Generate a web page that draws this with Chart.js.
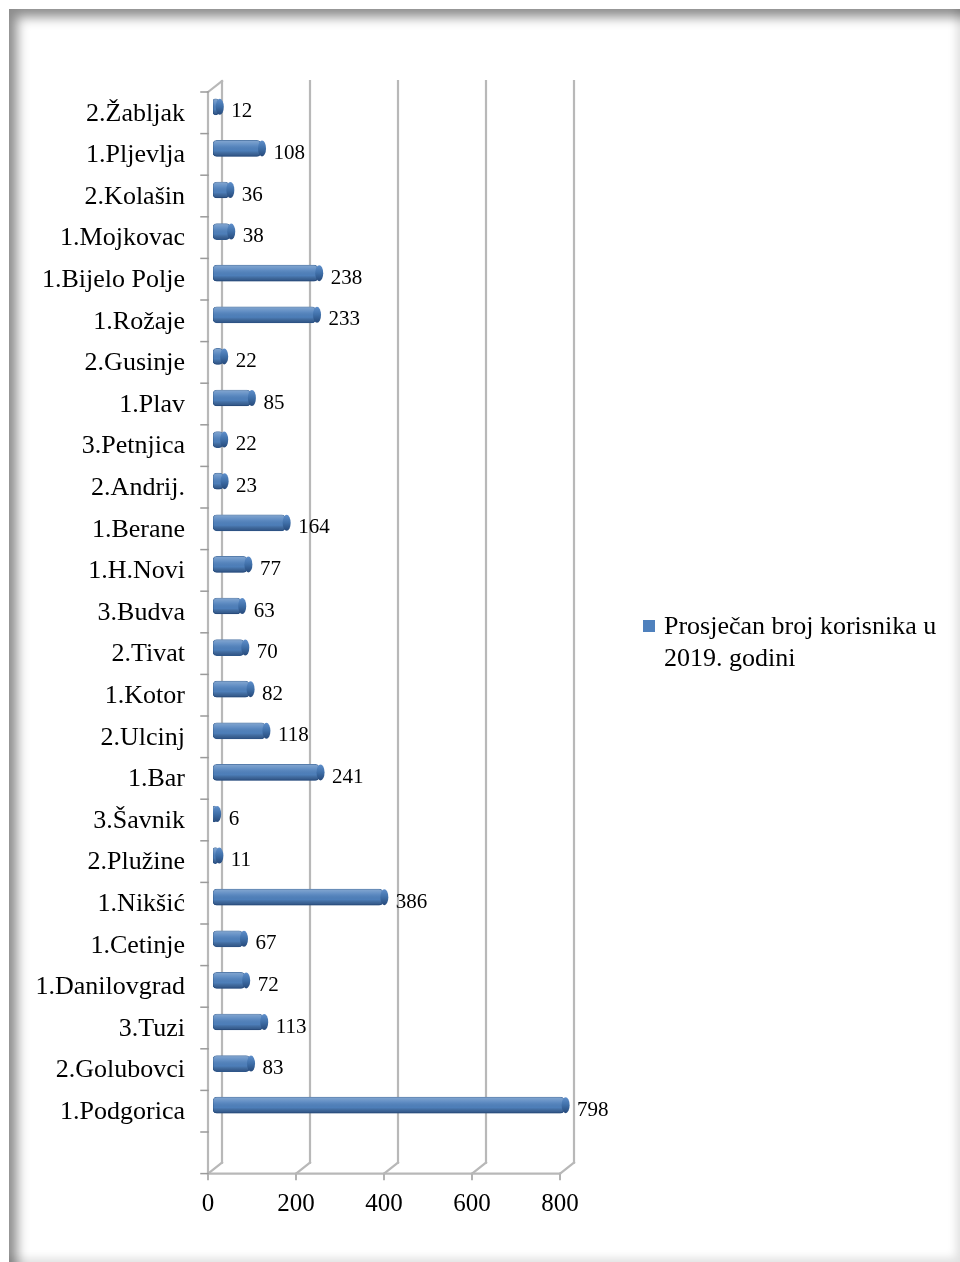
<!DOCTYPE html>
<html>
<head>
<meta charset="utf-8">
<script src="https://cdn.jsdelivr.net/npm/chart.js@4.4.0/dist/chart.umd.min.js"></script>
<style>
  html, body { margin: 0; padding: 0; background: #fff; }
  #wrap { position: relative; width: 960px; height: 1262px; overflow: hidden; }
  #okvir {
    position: absolute; left: 9px; top: 9px; width: 951px; height: 1253px; background: #fff;
    box-shadow: inset 11px 11px 12px -3px rgba(0,0,0,0.45), inset -7px -7px 8px -3px rgba(0,0,0,0.12);
  }
  #grafik { position: absolute; left: 0; top: 0; }
  #legenda {
    position: absolute; left: 643px; top: 610px; width: 300px; padding-left: 21px;
    font: 26px "Liberation Serif", "Times New Roman", serif; line-height: 32px; color: #000;
  }
  #legenda .kvadrat { position: absolute; left: 0; top: 10px; width: 12px; height: 12px; background: #4F81BD; }
</style>
</head>
<body>
<div id="wrap">
  <div id="okvir"></div>
  <canvas id="grafik" width="960" height="1262"></canvas>
  <div id="legenda"><span class="kvadrat"></span><span id="legendaTekst"></span></div>
</div>
<script>
// podaci
const gradovi = ['2.Žabljak', '1.Pljevlja', '2.Kolašin', '1.Mojkovac', '1.Bijelo Polje', '1.Rožaje',
  '2.Gusinje', '1.Plav', '3.Petnjica', '2.Andrij.', '1.Berane', '1.H.Novi', '3.Budva', '2.Tivat',
  '1.Kotor', '2.Ulcinj', '1.Bar', '3.Šavnik', '2.Plužine', '1.Nikšić', '1.Cetinje', '1.Danilovgrad',
  '3.Tuzi', '2.Golubovci', '1.Podgorica'];
const korisnici = [12, 108, 36, 38, 238, 233, 22, 85, 22, 23, 164, 77, 63, 70, 82, 118, 241, 6, 11, 386, 67, 72, 113, 83, 798];
const xOznake = [0, 200, 400, 600, 800];
const nazivSerije = 'Prosječan broj korisnika u 2019. godini';

const FONT = '"Liberation Serif", "Times New Roman", serif';
document.getElementById('legendaTekst').textContent = nazivSerije;

// pomaci za 3D izgled (prednja i zadnja ravan u odnosu na stubice)
const PRED = { dx: -5, dy: 6 };
const ZAD = { dx: 9, dy: -5 };

function linija(ctx, x1, y1, x2, y2) {
  ctx.beginPath();
  ctx.moveTo(x1, y1);
  ctx.lineTo(x2, y2);
  ctx.stroke();
}

// --- zidovi, pod i mreza ---
const okvir3d = {
  id: 'okvir3d',
  beforeDatasetsDraw(chart) {
    const ctx = chart.ctx;
    const xs = chart.scales.x, ys = chart.scales.y;
    const { top, bottom } = chart.chartArea;
    const slot = ys.getPixelForValue(1) - ys.getPixelForValue(0);
    const pod = bottom + slot;
    const x0 = xs.getPixelForValue(0);
    const xMax = xs.getPixelForValue(xOznake[xOznake.length - 1]);
    ctx.save();
    ctx.lineCap = 'square';

    // zadnji zid - vertikalne linije i dijagonale poda
    xOznake.forEach(v => {
      const px = xs.getPixelForValue(v);
      ctx.strokeStyle = '#b8b8b8';
      ctx.lineWidth = 2.2;
      linija(ctx, px + ZAD.dx, top + ZAD.dy, px + ZAD.dx, pod + ZAD.dy);
      linija(ctx, px + ZAD.dx, pod + ZAD.dy, px + PRED.dx, pod + PRED.dy);
      ctx.strokeStyle = '#9a9a9a';
      ctx.lineWidth = 1.5;
      linija(ctx, px + PRED.dx, pod + PRED.dy, px + PRED.dx, pod + PRED.dy + 6);
    });

    ctx.strokeStyle = '#b8b8b8';
    ctx.lineWidth = 2.2;
    // prednja ivica poda
    linija(ctx, x0 + PRED.dx, pod + PRED.dy, xMax + PRED.dx, pod + PRED.dy);
    // lijevi zid
    linija(ctx, x0 + PRED.dx, top + PRED.dy, x0 + PRED.dx, pod + PRED.dy);
    linija(ctx, x0 + PRED.dx, top + PRED.dy, x0 + ZAD.dx, top + ZAD.dy);

    // podioci na lijevom zidu
    ctx.strokeStyle = '#9a9a9a';
    ctx.lineWidth = 1.5;
    for (let k = 0; k <= gradovi.length; k++) {
      const y = top + k * slot + PRED.dy;
      linija(ctx, x0 + PRED.dx - 7, y, x0 + PRED.dx, y);
    }
    linija(ctx, x0 + PRED.dx - 7, pod + PRED.dy, x0 + PRED.dx, pod + PRED.dy);
    ctx.restore();
  }
};

// --- sjencenje stubica i vrijednosti ---
const stubici3d = {
  id: 'stubici3d',
  afterDatasetsDraw(chart) {
    const ctx = chart.ctx;
    const meta = chart.getDatasetMeta(0);
    ctx.save();
    meta.data.forEach((bar, i) => {
      const { x, y, base, height } = bar.getProps(['x', 'y', 'base', 'height'], true);
      const h = height / 2;
      const g = ctx.createLinearGradient(0, y - h, 0, y + h);
      g.addColorStop(0, 'rgba(255,255,255,0.30)');
      g.addColorStop(0.3, 'rgba(255,255,255,0.10)');
      g.addColorStop(0.65, 'rgba(0,0,0,0.02)');
      g.addColorStop(1, 'rgba(10,30,70,0.45)');
      ctx.fillStyle = g;
      ctx.beginPath();
      ctx.roundRect(base, y - h, x - base, height, 4);
      ctx.fill();

      // zaobljeni kraj
      const gk = ctx.createLinearGradient(0, y - h, 0, y + h);
      gk.addColorStop(0, '#5f8fcb');
      gk.addColorStop(0.5, '#3f6fa8');
      gk.addColorStop(1, '#26497a');
      ctx.fillStyle = gk;
      ctx.beginPath();
      ctx.ellipse(x + 1.5, y, 4, h, 0, 0, Math.PI * 2);
      ctx.fill();

      ctx.fillStyle = '#000';
      ctx.font = '21px ' + FONT;
      ctx.textAlign = 'left';
      ctx.textBaseline = 'middle';
      ctx.fillText(String(korisnici[i]), x + 13, y + 5);
    });
    ctx.restore();
  }
};

new Chart(document.getElementById('grafik'), {
  type: 'bar',
  data: {
    labels: gradovi,
    datasets: [{
      label: nazivSerije,
      data: korisnici,
      backgroundColor: '#4F81BD',
      borderColor: '#3a679d',
      borderWidth: 1,
      borderRadius: 4,
      borderSkipped: false,
      barThickness: 16
    }]
  },
  options: {
    indexAxis: 'y',
    responsive: false,
    animation: false,
    devicePixelRatio: 1,
    layout: { padding: { left: 0, top: 86, right: 395, bottom: 36 } },
    plugins: { legend: { display: false }, tooltip: { enabled: false } },
    scales: {
      x: {
        min: 0,
        max: 800,
        grid: { display: false, drawTicks: false },
        border: { display: false },
        afterBuildTicks: s => { s.ticks = xOznake.map(v => ({ value: v })); },
        afterFit: s => { s.height = 100; },
        ticks: { color: '#000', font: { family: FONT, size: 25 }, padding: 63, labelOffset: -5, maxRotation: 0 }
      },
      y: {
        grid: { display: false, drawTicks: false },
        border: { display: false },
        afterFit: s => { s.width = 213; },
        ticks: { color: '#000', font: { family: FONT, size: 26 }, padding: 28, labelOffset: 7, autoSkip: false }
      }
    }
  },
  plugins: [okvir3d, stubici3d]
});
</script>
</body>
</html>
